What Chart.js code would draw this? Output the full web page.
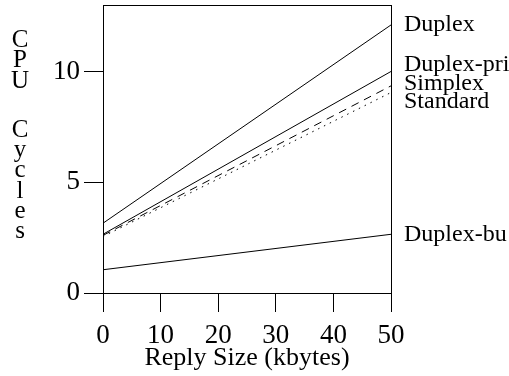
<!DOCTYPE html>
<html lang="en">
<head>
  <meta charset="UTF-8">
  <title>CPU Cycles vs Reply Size</title>
  <script src="https://cdn.jsdelivr.net/npm/chart.js"></script>
  <style>
    html, body { margin: 0; padding: 0; background: #fff; }
    #wrap { width: 509px; height: 376px; }
  </style>
</head>
<body>
  <div id="wrap"><canvas id="cpuChart" width="509" height="376"></canvas></div>

  <script>
    // reply size in kbytes
    const replySizes = [0, 50];

    // CPU cycles per protocol
    const duplex    = [3.15, 12.1];
    const duplexPri = [2.65, 10.0];
    const simplex   = [2.6, 9.35];
    const standard  = [2.55, 9.05];
    const duplexBu  = [1.05, 2.65];

    const xTicks = [0, 10, 20, 30, 40, 50];
    const yTicks = [0, 5, 10];

    const serif = '"Liberation Serif", "Times New Roman", Tinos, Times, serif';

    function pts(ys) {
      return ys.map((y, i) => ({ x: replySizes[i], y: y }));
    }

    // no extra room for half labels, the plot box is fixed
    function noPad(s) {
      s.paddingTop = 0;
      s.paddingBottom = 0;
      s.paddingLeft = 0;
      s.paddingRight = 0;
    }

    // frame round the plot area, stacked y title and labels at the line ends
    const decorations = {
      id: 'decorations',
      afterDraw(chart) {
        const ctx = chart.ctx;
        const a = chart.chartArea;
        ctx.save();
        ctx.strokeStyle = '#000';
        ctx.lineWidth = 1;
        ctx.strokeRect(Math.round(a.left) + 0.5, Math.round(a.top) + 0.5,
          Math.round(a.right - a.left), Math.round(a.bottom - a.top));

        ctx.fillStyle = '#000';
        ctx.font = '25px ' + serif;
        ctx.textAlign = 'center';
        ctx.textBaseline = 'alphabetic';
        let y = 47;
        for (const ch of 'CPU Cycles') {
          if (ch !== ' ') ctx.fillText(ch, 20, y);
          y += ch === ' ' ? 28.7 : 20.3;
        }

        // line-end labels, pushed apart where they crowd
        ctx.font = '24px ' + serif;
        const ys = chart.scales.y;
        const items = chart.data.datasets.map(ds => ({
          text: ds.label,
          py: ys.getPixelForValue(ds.data[ds.data.length - 1].y)
        })).sort((p, q) => p.py - q.py);
        const gap = 18.5;
        let groups = items.map(it => ({ list: [it], c: it.py }));
        let merged = true;
        while (merged) {
          merged = false;
          for (let i = 0; i < groups.length - 1; i++) {
            const g = groups[i], h = groups[i + 1];
            const gEnd = g.c + (g.list.length - 1) * gap / 2;
            const hStart = h.c - (h.list.length - 1) * gap / 2;
            if (hStart - gEnd < gap) {
              const list = g.list.concat(h.list);
              const c = list.reduce((s, it) => s + it.py, 0) / list.length;
              groups.splice(i, 2, { list: list, c: c });
              merged = true;
              break;
            }
          }
        }
        ctx.textAlign = 'left';
        ctx.textBaseline = 'middle';
        groups.forEach(g => {
          g.list.forEach((it, k) => {
            const py = g.c + (k - (g.list.length - 1) / 2) * gap;
            ctx.fillText(it.text, a.right + 13, py);
          });
        });
        ctx.restore();
      }
    };

    const line = (label, data, dash) => ({
      label: label,
      data: pts(data),
      borderColor: '#000',
      borderWidth: 1,
      borderDash: dash,
      pointRadius: 0,
      fill: false,
      tension: 0
    });

    new Chart(document.getElementById('cpuChart'), {
      type: 'line',
      data: {
        datasets: [
          line('Duplex', duplex, []),
          line('Duplex-pri', duplexPri, []),
          line('Simplex', simplex, [8, 6]),
          line('Standard', standard, [1.5, 5]),
          line('Duplex-bu', duplexBu, [])
        ]
      },
      options: {
        responsive: false,
        animation: false,
        events: [],
        layout: { padding: { left: 0, right: 118, top: 5, bottom: 0 } },
        plugins: {
          legend: { display: false },
          tooltip: { enabled: false }
        },
        scales: {
          x: {
            type: 'linear',
            min: 0,
            max: 50,
            afterBuildTicks: s => { s.ticks = xTicks.map(v => ({ value: v })); },
            afterFit: s => { s.height = 83; noPad(s); },
            border: { display: true, color: '#000', width: 1 },
            grid: { drawOnChartArea: false, drawTicks: true, tickLength: 19, color: '#000' },
            ticks: { color: '#000', padding: 8, maxRotation: 0, font: { family: serif, size: 27 } },
            title: {
              display: true,
              text: 'Reply Size (kbytes)',
              color: '#000',
              padding: { top: 0, bottom: 2 },
              font: { family: serif, size: 26 }
            }
          },
          y: {
            type: 'linear',
            min: 0,
            max: 13,
            afterBuildTicks: s => { s.ticks = yTicks.map(v => ({ value: v })); },
            afterFit: s => { s.width = 103; noPad(s); },
            border: { display: true, color: '#000', width: 1 },
            grid: { drawOnChartArea: false, drawTicks: true, tickLength: 19, color: '#000' },
            ticks: { color: '#000', padding: 4, font: { family: serif, size: 27 } }
          }
        }
      },
      plugins: [decorations]
    });
  </script>
</body>
</html>
